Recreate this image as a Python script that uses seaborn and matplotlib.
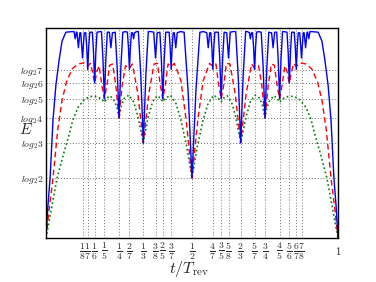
import matplotlib
matplotlib.use("Agg")
import matplotlib.pyplot as plt
import seaborn as sns
import numpy as np

# ---- data ----
blue_t = [0.000, 0.006, 0.014, 0.024, 0.034, 0.045, 0.055, 0.068, 0.090,
          0.096, 0.100, 0.104, 0.106, 0.111, 0.116, 0.119, 0.125, 0.131,
          0.136, 0.1394, 0.1429, 0.1464, 0.150,
          0.1587, 0.1627, 0.1667, 0.1707, 0.1747, 0.185,
          0.190, 0.195, 0.200, 0.205, 0.210, 0.217, 0.2222, 0.2275,
          0.237, 0.2435, 0.250, 0.2565, 0.263, 0.272,
          0.2787, 0.2822, 0.2857, 0.2892, 0.2927, 0.2965, 0.300, 0.3035, 0.310,
          0.3163, 0.3248, 0.3333, 0.3418, 0.3503, 0.360,
          0.369, 0.375, 0.381, 0.390, 0.395, 0.400, 0.405, 0.410,
          0.4216, 0.4251, 0.4286, 0.4321, 0.4356, 0.4394, 0.4444, 0.4494, 0.460,
          0.473, 0.4865, 0.500,
          0.5135, 0.527, 0.540, 0.5506, 0.5556, 0.5606,
          0.5644, 0.5679, 0.5714, 0.5749, 0.5784,
          0.590, 0.595, 0.600, 0.605, 0.610, 0.619, 0.625, 0.631, 0.640,
          0.6497, 0.6582, 0.6667, 0.6752, 0.6837, 0.690,
          0.6965, 0.700, 0.7035, 0.7073, 0.7108, 0.7143, 0.7178, 0.7213, 0.728,
          0.737, 0.7435, 0.750, 0.7565, 0.763, 0.7725, 0.7778, 0.783,
          0.790, 0.795, 0.800, 0.805, 0.810, 0.815,
          0.8253, 0.8293, 0.8333, 0.8373, 0.8413,
          0.850, 0.8536, 0.8571, 0.8606, 0.864, 0.869, 0.875, 0.881,
          0.884, 0.889, 0.894, 0.896, 0.900, 0.904,
          0.910, 0.932, 0.945, 0.955, 0.966, 0.976, 0.986, 0.994, 1.000]
blue_e = [0.00, 0.50, 1.00, 1.97, 2.55, 2.97, 3.28, 3.43, 3.44,
          3.44, 3.32, 3.43, 3.43, 3.17, 3.42, 3.42, 3.00, 3.42,
          3.42, 3.19, 2.81, 3.19, 3.43,
          3.43, 3.10, 2.585, 3.10, 3.43, 3.44,
          3.44, 2.99, 2.32, 2.99, 3.43, 3.43, 3.17, 3.42,
          3.43, 2.86, 2.00, 2.86, 3.43, 3.44,
          3.43, 3.19, 2.81, 3.19, 3.42, 3.42, 3.32, 3.42, 3.44,
          3.44, 2.70, 1.585, 2.70, 3.44, 3.44,
          3.43, 3.00, 3.42, 3.43, 2.99, 2.32, 2.99, 3.43,
          3.43, 3.19, 2.81, 3.19, 3.42, 3.42, 3.17, 3.42, 3.44,
          3.43, 2.46, 1.00,
          2.46, 3.43, 3.44, 3.42, 3.17, 3.42,
          3.42, 3.19, 2.81, 3.19, 3.43,
          3.43, 2.99, 2.32, 2.99, 3.43, 3.42, 3.00, 3.43, 3.44,
          3.44, 2.70, 1.585, 2.70, 3.44, 3.44,
          3.42, 3.32, 3.42, 3.42, 3.19, 2.81, 3.19, 3.43, 3.44,
          3.43, 2.86, 2.00, 2.86, 3.43, 3.42, 3.17, 3.43,
          3.43, 2.99, 2.32, 2.99, 3.44, 3.44,
          3.43, 3.10, 2.585, 3.10, 3.43,
          3.43, 3.19, 2.81, 3.19, 3.42, 3.42, 3.00, 3.42,
          3.42, 3.17, 3.43, 3.43, 3.32, 3.44,
          3.44, 3.43, 3.28, 2.97, 2.55, 1.97, 1.00, 0.50, 0.00]

red_t = [0.000, 0.010, 0.024, 0.040, 0.055, 0.070, 0.090, 0.110, 0.130, 0.1429,
         0.152, 0.1587, 0.1667, 0.1747, 0.182, 0.191, 0.200, 0.209, 0.218, 0.228,
         0.239, 0.250, 0.261, 0.272, 0.2857, 0.296, 0.3147, 0.3333, 0.352, 0.370,
         0.382, 0.391, 0.400, 0.409, 0.418, 0.4286, 0.440, 0.462, 0.480, 0.500,
         0.520, 0.538, 0.560, 0.5714, 0.582, 0.591, 0.600, 0.609, 0.618, 0.630,
         0.648, 0.6667, 0.6853, 0.704, 0.7143, 0.728, 0.739, 0.750, 0.761, 0.772,
         0.782, 0.791, 0.800, 0.809, 0.818, 0.8253, 0.8333, 0.8413, 0.848, 0.8571,
         0.870, 0.890, 0.910, 0.930, 0.945, 0.960, 0.976, 0.990, 1.000]
red_e = [0.00, 0.45, 1.00, 1.80, 2.30, 2.60, 2.82, 2.90, 2.92, 2.86,
         2.91, 2.78, 2.585, 2.78, 2.87, 2.56, 2.32, 2.56, 2.88, 2.90,
         2.55, 2.00, 2.55, 2.87, 2.83, 2.90, 2.40, 1.585, 2.40, 2.90,
         2.91, 2.56, 2.32, 2.56, 2.90, 2.86, 2.91, 2.62, 1.97, 1.00,
         1.97, 2.62, 2.91, 2.86, 2.90, 2.56, 2.32, 2.56, 2.91, 2.90,
         2.40, 1.585, 2.40, 2.90, 2.83, 2.87, 2.55, 2.00, 2.55, 2.90,
         2.88, 2.56, 2.32, 2.56, 2.87, 2.78, 2.585, 2.78, 2.91, 2.86,
         2.92, 2.90, 2.82, 2.60, 2.30, 1.80, 1.00, 0.45, 0.00]

green_t = [0.000, 0.038, 0.060, 0.079, 0.092, 0.110, 0.130, 0.150, 0.170, 0.190,
           0.200, 0.208, 0.220, 0.235, 0.243, 0.250, 0.258, 0.268, 0.284, 0.300,
           0.315, 0.3333, 0.350, 0.365, 0.380, 0.393, 0.400, 0.410, 0.426, 0.445,
           0.462, 0.482, 0.500,
           0.518, 0.538, 0.555, 0.574, 0.590, 0.600, 0.607, 0.620, 0.635, 0.650,
           0.6667, 0.685, 0.700, 0.716, 0.732, 0.742, 0.750, 0.757, 0.765, 0.780,
           0.792, 0.800, 0.810, 0.830, 0.850, 0.870, 0.890, 0.908, 0.921, 0.940,
           0.962, 1.000]
green_e = [0.00, 1.00, 1.40, 1.72, 1.97, 2.18, 2.30, 2.36, 2.36, 2.32,
           2.26, 2.33, 2.37, 2.28, 2.18, 2.00, 2.20, 2.33, 2.38, 2.27,
           2.02, 1.585, 2.02, 2.27, 2.37, 2.33, 2.27, 2.33, 2.38, 2.24,
           1.97, 1.52, 1.00,
           1.52, 1.97, 2.24, 2.38, 2.33, 2.27, 2.33, 2.37, 2.27, 2.02,
           1.585, 2.02, 2.27, 2.38, 2.33, 2.20, 2.00, 2.18, 2.28, 2.37,
           2.33, 2.26, 2.32, 2.36, 2.36, 2.30, 2.18, 1.97, 1.72, 1.40,
           1.00, 0.00]

tick_num = [1, 1, 1, 1, 1, 2, 1, 3, 2, 3, 1, 4, 3, 5, 2, 5, 3, 4, 5, 6, 7, 1]
tick_den = [8, 7, 6, 5, 4, 7, 3, 8, 5, 7, 2, 7, 5, 8, 3, 7, 4, 5, 6, 7, 8, 1]
ytick_n = [2, 3, 4, 5, 6, 7]

# ---- drawing ----
sns.set_style("white")
plt.rcParams["mathtext.fontset"] = "cm"
plt.rcParams["font.family"] = ["DejaVu Serif"]

fig = plt.figure(figsize=(3.76, 2.82), dpi=100)
ax = fig.add_axes([46 / 376, 44 / 282, 292 / 376, 210 / 282])

sns.lineplot(x=green_t, y=green_e, ax=ax, color=(0, 0.5, 0), lw=1.2,
             linestyle=(0, (1, 1.6)), estimator=None, sort=False)
sns.lineplot(x=red_t, y=red_e, ax=ax, color="red", lw=1.0,
             linestyle=(0, (4, 2.5)), estimator=None, sort=False)
sns.lineplot(x=blue_t, y=blue_e, ax=ax, color="blue", lw=1.0,
             estimator=None, sort=False)

xt = [n / d for n, d in zip(tick_num, tick_den)]
xl = [r"$1$" if d == 1 else r"$\frac{%d}{%d}$" % (n, d) for n, d in zip(tick_num, tick_den)]
ax.set_xticks(xt)
ax.set_xticklabels(xl, fontsize=10)
ax.get_xticklabels()[-1].set_fontsize(7.5)
yt = list(np.log2(ytick_n))
ax.set_yticks(yt)
ax.set_yticklabels([r"$log_2 %d$" % n for n in ytick_n], fontsize=7)
ax.set_xlim(0, 1)
ax.set_ylim(0, 3.5)
ax.tick_params(length=0, pad=2)
ax.xaxis.get_major_ticks()[-1].set_pad(5)

ax.grid(True, linestyle=(0, (1, 2)), color="0.45", lw=0.7)
ax.set_axisbelow(True)
for s in ax.spines.values():
    s.set_color("black")
    s.set_linewidth(1.0)

ax.set_xlabel(r"$t/T_{\rm rev}$", fontsize=11.5)
ax.xaxis.set_label_coords(0.49, -0.10)
ax.set_ylabel(r"$E$", fontsize=11, rotation=0, va="center", ha="center")
ax.yaxis.set_label_coords(-0.07, 0.516)

fig.savefig("out.png", dpi=100)
